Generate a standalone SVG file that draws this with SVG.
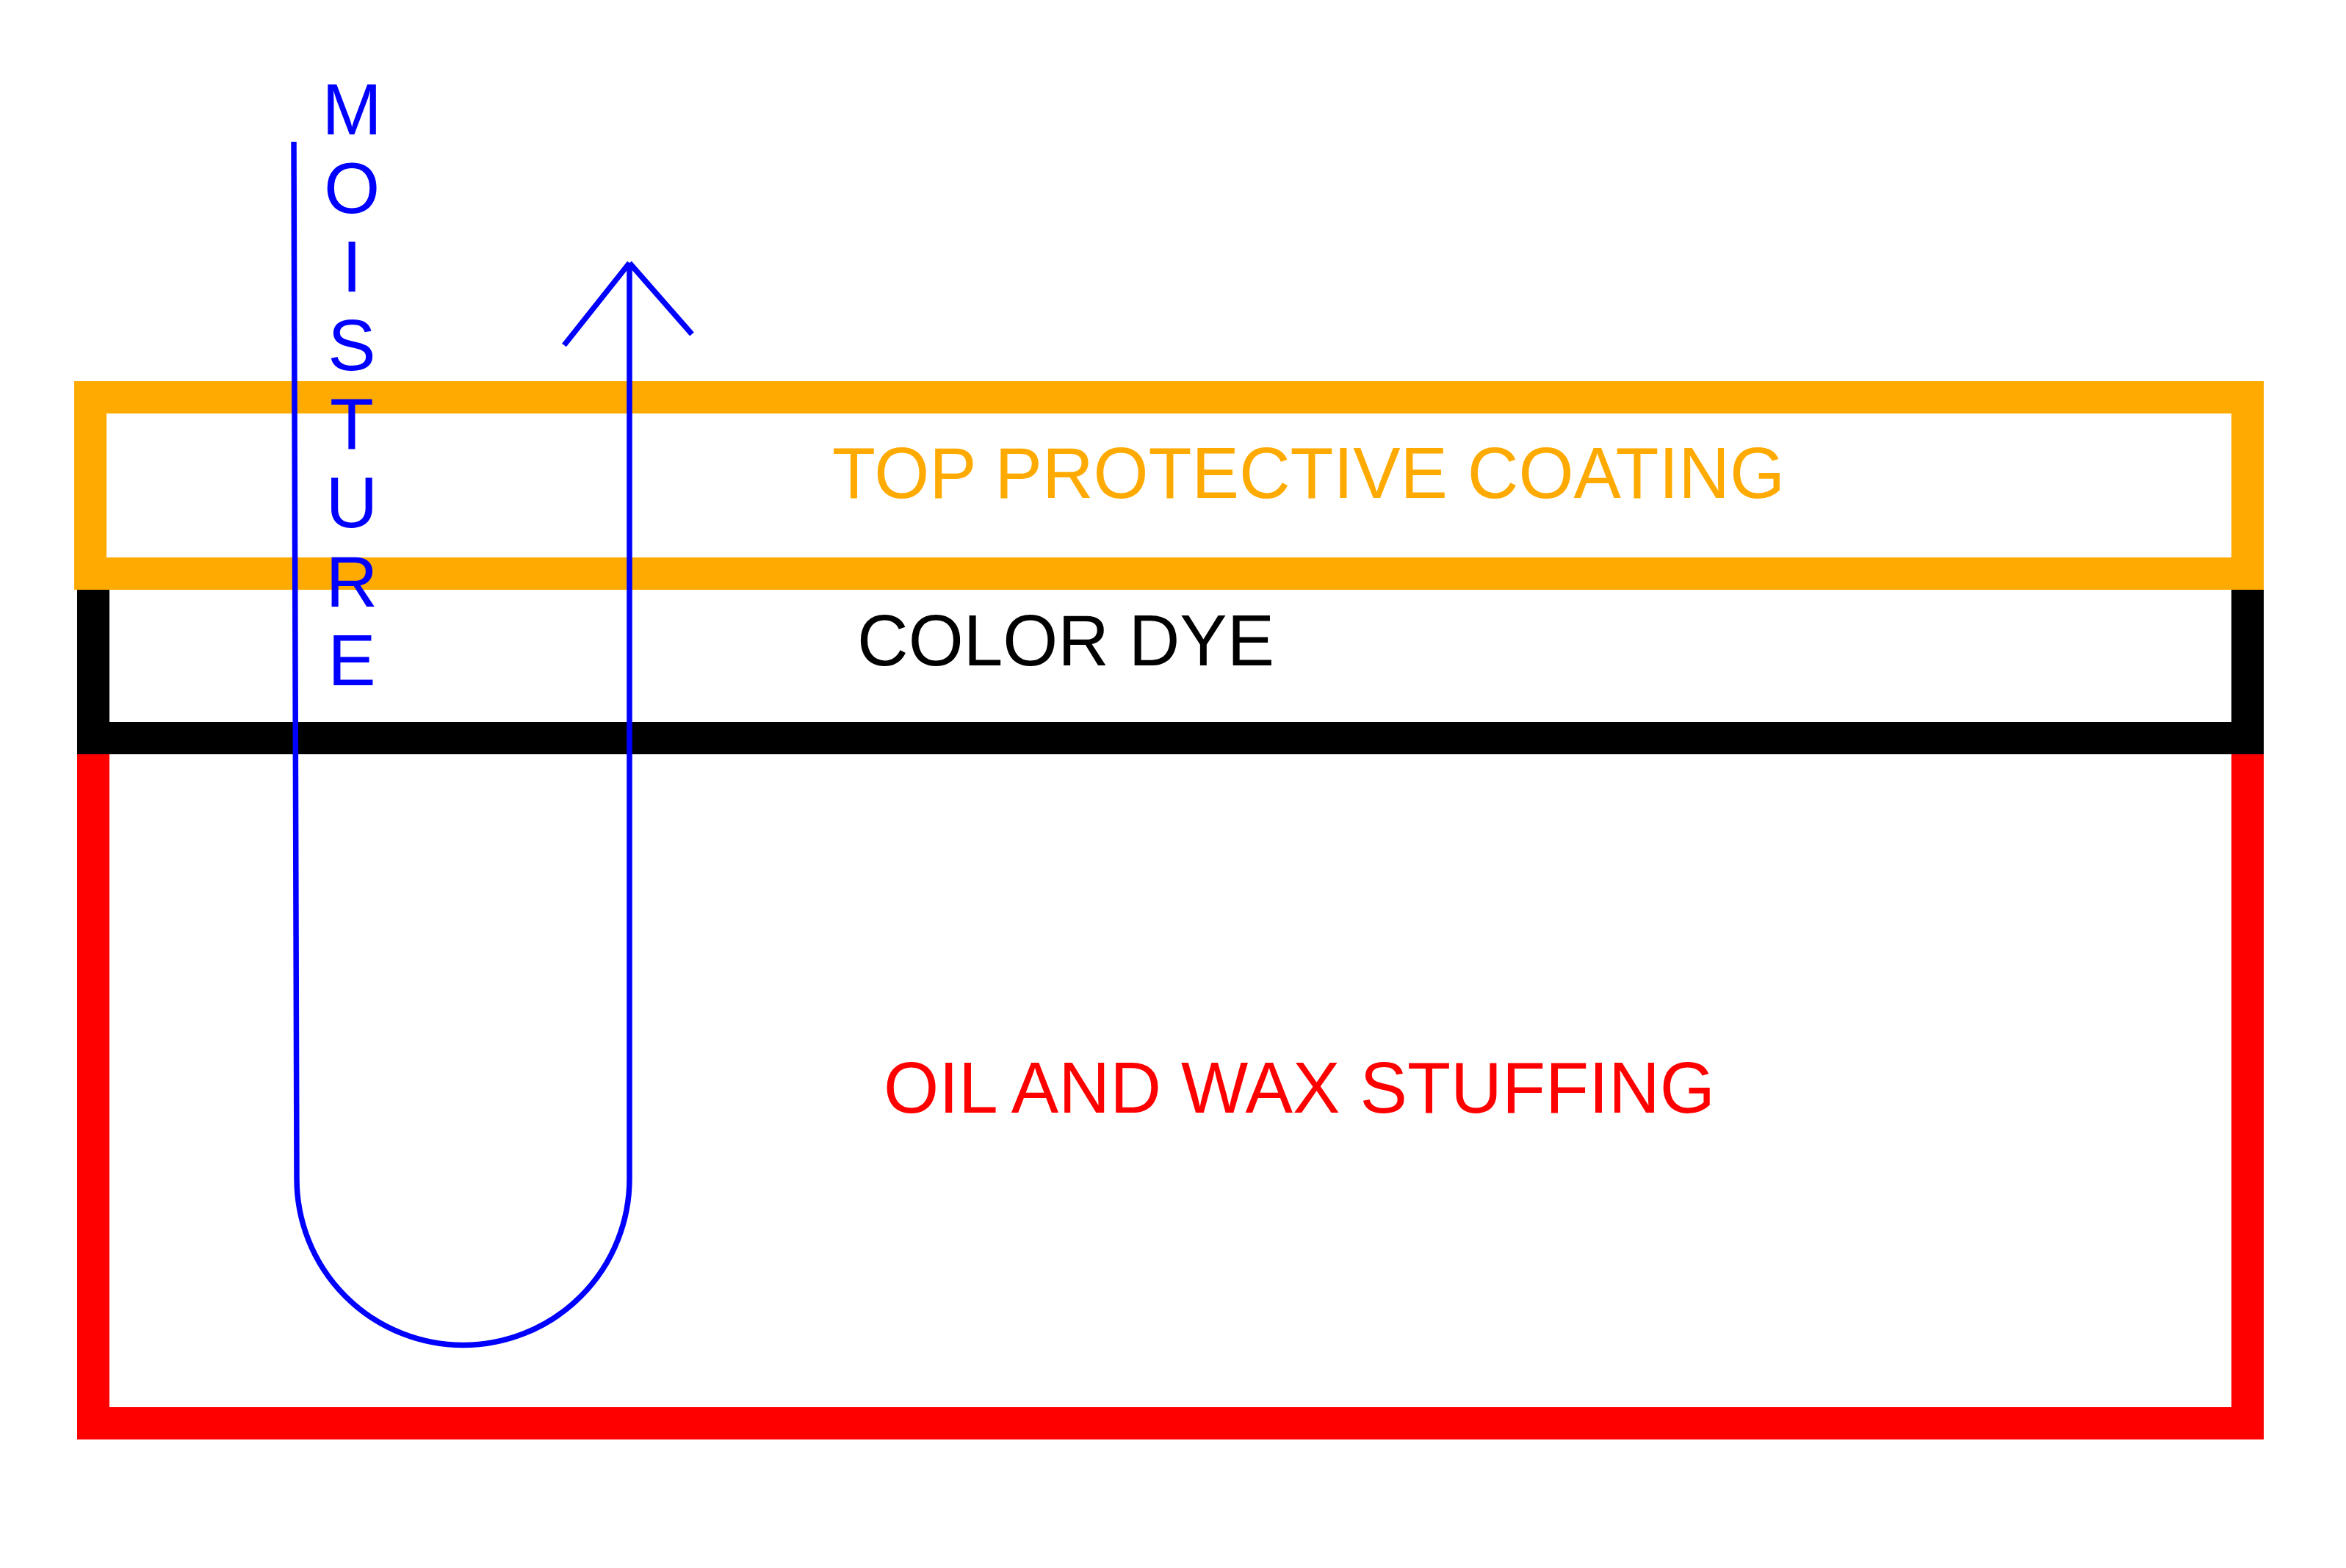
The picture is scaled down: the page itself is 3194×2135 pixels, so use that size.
<svg xmlns="http://www.w3.org/2000/svg" width="3194" height="2135" viewBox="0 0 3194 2135">
  <style>
    .layer { fill: none; stroke-width: 44; }
    .lbl { font-family: "Liberation Sans", Arial, sans-serif; font-size: 99px; }
    .flow { fill: none; stroke: #0000FF; stroke-width: 7.5; stroke-linecap: butt; }
    .moist { font-family: "Liberation Sans", Arial, sans-serif; font-size: 98px; fill: #0000FF; text-anchor: middle; }
  </style>
  <rect x="0" y="0" width="3194" height="2135" fill="#FFFFFF"/>
  <g id="layer-stuffing">
    <rect class="layer" x="127" y="1005" width="2933" height="933" stroke="#FF0000"/>
    <text class="lbl" x="1203" y="1515" fill="#FF0000" textLength="1132" lengthAdjust="spacingAndGlyphs">OIL AND WAX STUFFING</text>
  </g>
  <g id="layer-color-dye">
    <rect class="layer" x="127" y="781" width="2933" height="224" stroke="#000000"/>
    <text class="lbl" x="1167" y="906" fill="#000000" textLength="568" lengthAdjust="spacingAndGlyphs">COLOR DYE</text>
  </g>
  <g id="layer-top-coating">
    <rect class="layer" x="123" y="541" width="2937" height="240" stroke="#FFAA00"/>
    <text class="lbl" x="1133" y="678" fill="#FFAA00" textLength="1297" lengthAdjust="spacingAndGlyphs">TOP PROTECTIVE COATING</text>
  </g>
  <g id="moisture-label">
    <text class="moist" x="479" y="183">M</text>
    <text class="moist" x="479" y="290">O</text>
    <text class="moist" x="479" y="397">I</text>
    <text class="moist" x="479" y="504">S</text>
    <text class="moist" x="479" y="611">T</text>
    <text class="moist" x="479" y="718">U</text>
    <text class="moist" x="479" y="826">R</text>
    <text class="moist" x="479" y="933">E</text>
  </g>
  <g id="connectors">
    <path class="flow" d="M400,193 L404,1605 A226.5,226.5 0 0 0 857,1605 L857,358"/>
    <path class="flow" d="M768,470 L857,358"/>
    <path class="flow" d="M857,358 L942,455"/>
  </g>
</svg>
